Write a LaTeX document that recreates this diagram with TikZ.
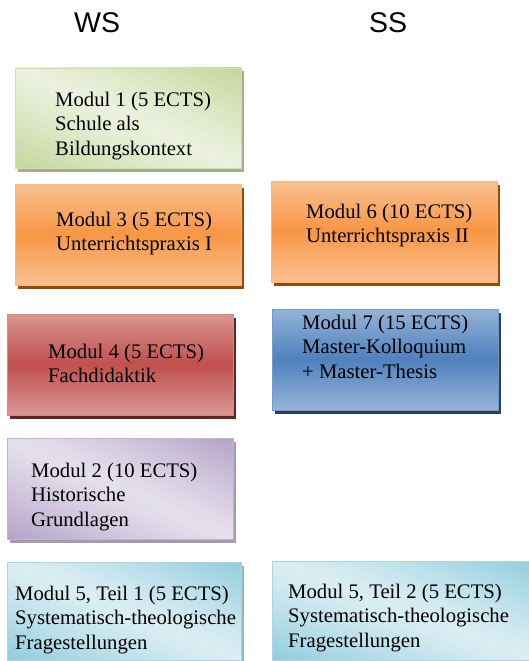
\documentclass[tikz,border=0pt]{standalone}
\usepackage{fontspec}
\setmainfont{Liberation Serif}
\newfontfamily\headfont{Liberation Sans}

\definecolor{grnlight}{HTML}{EBF1DE}
\definecolor{grndark}{HTML}{C3D69B}
\definecolor{grnshadow}{HTML}{A2B08B}
\definecolor{orglight}{HTML}{FAC08F}
\definecolor{orgdark}{HTML}{F79646}
\definecolor{orgshadow}{HTML}{984807}
\definecolor{redlight}{HTML}{D99694}
\definecolor{reddark}{HTML}{C0504D}
\definecolor{redshadow}{HTML}{632523}
\definecolor{blulight}{HTML}{95B3D7}
\definecolor{bludark}{HTML}{4F81BD}
\definecolor{blushadow}{HTML}{244062}
\definecolor{vlolight}{HTML}{E5E0EC}
\definecolor{vlodark}{HTML}{B3A2C7}
\definecolor{vloshadow}{HTML}{A49BB0}
\definecolor{cynlight}{HTML}{DAEEF3}
\definecolor{cyndark}{HTML}{92CDDC}
\definecolor{cynshadow}{HTML}{8CB9C5}

\tikzset{
  modul/.style={line width=1.2pt, anchor=north west},
  modultext/.style={anchor=north west, align=left, font=\fontsize{20.7}{24.4}\selectfont},
  term/.style={anchor=base west, font=\headfont\fontsize{28.5}{30}\selectfont},
}

% shadow + gradient of a box: x, y, w, h, colour prefix
\newcommand{\vertgrad}[5]{
  \fill[#5shadow] (#1+2.5,#2+3.5) rectangle ++(#3,#4);
  \begin{scope}
  \clip (#1,#2) rectangle ++(#3,#4);
  \foreach \i in {0,...,39}{
    \pgfmathsetmacro\pct{100*(1-abs((\i+0.5)/20-1))}
    \fill[#5dark!\pct!#5light] (#1,#2+\i*#4/40) rectangle (#1+#3,#2+\i*#4/40+#4/40+0.6);
  }
  \end{scope}}
\newcommand{\diaggrad}[5]{
  \fill[#5shadow] (#1+2.5,#2+3.5) rectangle ++(#3,#4);
  \begin{scope}
  \clip (#1,#2) rectangle ++(#3,#4);
  \foreach \i in {0,...,49}{
    \pgfmathsetmacro\pct{100*abs((\i+0.5)/25-1)^1.2}
    \pgfmathsetmacro\ca{\i/25-1}
    \pgfmathsetmacro\cb{(\i+1.2)/25-1}
    \fill[#5dark!\pct!#5light] (#1+\ca*#3-2*#3,#2-2*#4) -- (#1+\cb*#3-2*#3,#2-2*#4)
      -- (#1+\cb*#3+2*#3,#2+2*#4) -- (#1+\ca*#3+2*#3,#2+2*#4) -- cycle;
  }
  \end{scope}}

\begin{document}
\begin{tikzpicture}[x=1pt,y=-1pt,inner sep=0pt]
\useasboundingbox (0,0) rectangle (529,661);

\node(ws) at (74,33) [term] {WS};
\node(ss) at (369,33) [term] {SS};

% Wintersemester
\diaggrad{15}{68}{226}{100}{grn}
\node(m1) at (15,68) [modul, draw=grndark!70!grnlight, minimum width=226pt, minimum height=100pt] {};
\vertgrad{15}{184}{226}{101}{org}
\node(m3) at (15,184) [modul, draw=orglight!80!orgdark, minimum width=226pt, minimum height=101pt] {};
\vertgrad{7}{314}{226}{101}{red}
\node(m4) at (7,314) [modul, draw=redlight!80!reddark, minimum width=226pt, minimum height=101pt] {};
\diaggrad{7}{438}{226}{101}{vlo}
\node(m2) at (7,438) [modul, draw=vlodark!70!vlolight, minimum width=226pt, minimum height=101pt] {};
\diaggrad{7}{562}{234}{98}{cyn}
\node(m5a) at (7,562) [modul, draw=cyndark!70!cynlight, minimum width=234pt, minimum height=98pt] {};

% Sommersemester
\vertgrad{271}{181}{226}{101}{org}
\node(m6) at (271,181) [modul, draw=orglight!80!orgdark, minimum width=226pt, minimum height=101pt] {};
\vertgrad{272}{309}{226}{101}{blu}
\node(m7) at (272,309) [modul, draw=blulight!50!bludark, minimum width=226pt, minimum height=101pt] {};
\diaggrad{272}{561}{264}{99}{cyn}
\node(m5b) at (272,561) [modul, draw=cyndark!70!cynlight, minimum width=264pt, minimum height=99pt] {};

\node(t1) at (55,92) [modultext] {Modul 1 (5 ECTS)\\Schule als\\Bildungskontext};
\node(t3) at (56,212) [modultext] {Modul 3 (5 ECTS)\\Unterrichtspraxis I};
\node(t4) at (48,344) [modultext] {Modul 4 (5 ECTS)\\Fachdidaktik};
\node(t2) at (31,463) [modultext] {Modul 2 (10 ECTS)\\Historische\\Grundlagen};
\node(t5a) at (15,586) [modultext] {Modul 5, Teil 1 (5 ECTS)\\Systematisch-theologische\\Fragestellungen};
\node(t6) at (306,204) [modultext] {Modul 6 (10 ECTS)\\Unterrichtspraxis II};
\node(t7) at (302,315) [modultext] {Modul 7 (15 ECTS)\\Master-Kolloquium\\+ Master-Thesis};
\node(t5b) at (288,584) [modultext] {Modul 5, Teil 2 (5 ECTS)\\Systematisch-theologische\\Fragestellungen};

\end{tikzpicture}
\end{document}
